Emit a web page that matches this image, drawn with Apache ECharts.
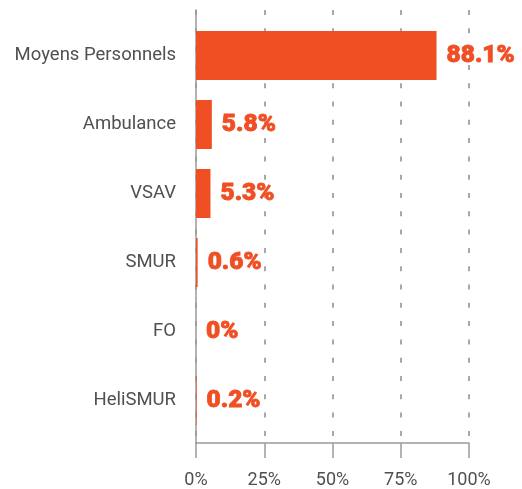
<!DOCTYPE html>
<html>
<head>
<meta charset="utf-8">
<script src="https://cdn.jsdelivr.net/npm/echarts@6/dist/echarts.min.js"></script>
<style>
  html, body { margin: 0; padding: 0; background: #ffffff; }
  #chart { width: 522px; height: 489px; }
</style>
</head>
<body>
<div id="chart"></div>
<script>
// Share of interventions by means deployed (%)
const categories = ['Moyens Personnels', 'Ambulance', 'VSAV', 'SMUR', 'FO', 'HeliSMUR'];
const shares = [88.1, 5.8, 5.3, 0.6, 0, 0.2];
const tickValues = [0, 25, 50, 75, 100];

const ORANGE = '#f04e23';
const AXIS_GREY = '#9a9a9a';
const TEXT_GREY = '#505050';
const FONT = 'Roboto, "Open Sans", sans-serif';

const chart = echarts.init(document.getElementById('chart'), null, { renderer: 'canvas' });

chart.setOption({
  animation: false,
  backgroundColor: '#ffffff',
  grid: [
    // frame: percentage axis, dashed guides and the left rule
    { left: 196, top: 10, width: 273, height: 437 },
    // bars
    { left: 196, top: 21, width: 273, height: 414 }
  ],
  xAxis: [
    {
      gridIndex: 0,
      type: 'value',
      min: tickValues[0],
      max: tickValues[tickValues.length - 1],
      interval: 25,
      axisLine: { show: true, lineStyle: { color: AXIS_GREY, width: 1.5 } },
      axisTick: { show: true, length: 15, lineStyle: { color: AXIS_GREY, width: 1.5 } },
      axisLabel: {
        margin: 28,
        color: TEXT_GREY,
        fontFamily: FONT,
        fontSize: 18,
        formatter: v => v + '%'
      },
      splitLine: {
        show: true,
        lineStyle: { color: '#8c8c8c', width: 1.5, type: [5, 13.3] }
      }
    },
    {
      gridIndex: 1,
      type: 'value',
      min: 0,
      max: 100,
      show: false
    }
  ],
  yAxis: [
    {
      gridIndex: 0,
      type: 'value',
      min: 0,
      max: 1,
      axisLine: { show: true, lineStyle: { color: AXIS_GREY, width: 1.5 } },
      axisTick: { show: false },
      axisLabel: { show: false },
      splitLine: { show: false }
    },
    {
      gridIndex: 1,
      type: 'category',
      data: categories,
      inverse: true,
      axisLine: { show: false },
      axisTick: { show: false },
      splitLine: { show: false },
      axisLabel: {
        margin: 20,
        color: TEXT_GREY,
        fontFamily: FONT,
        fontSize: 18.5
      }
    }
  ],
  series: [
    {
      type: 'bar',
      xAxisIndex: 1,
      yAxisIndex: 1,
      data: shares,
      barWidth: 49,
      itemStyle: { color: ORANGE },
      label: {
        show: true,
        position: 'right',
        distance: 10,
        color: ORANGE,
        fontFamily: FONT,
        fontWeight: 900,
        fontSize: 24.5,
        textBorderColor: ORANGE,
        textBorderWidth: 0.8,
        formatter: p => p.value + '%'
      }
    }
  ]
});
</script>
</body>
</html>
